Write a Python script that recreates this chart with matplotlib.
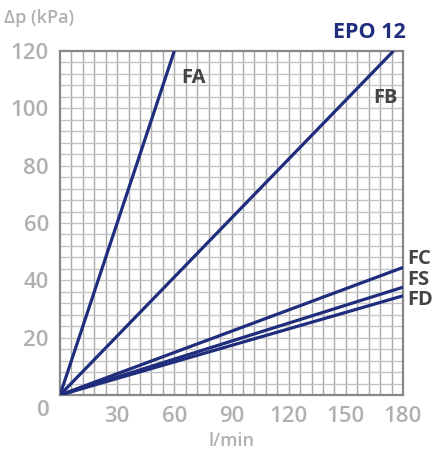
import numpy as np
import matplotlib.pyplot as plt

# flow (l/min) vs pressure drop (kPa), straight lines from origin
names = ['FA', 'FB', 'FC', 'FS', 'FD']
x_end = [60, 175, 180, 180, 180]
y_end = [120, 120, 44.5, 37.6, 34.6]

x_ticks = [30, 60, 90, 120, 150, 180]
y_ticks = [20, 40, 60, 80, 100, 120]

navy = '#1f2d7c'
tick_grey = '#b0b0b0'
label_grey = '#444444'

plt.rcParams['font.family'] = ['Open Sans', 'DejaVu Sans']

fig = plt.figure(figsize=(4.38, 4.5), dpi=100)
ax = fig.add_axes([60 / 438, 1 - 395 / 450, 343 / 438, 344 / 450])

ax.set_xlim(0, 180)
ax.set_ylim(0, 120)

# fine grid
for gx in np.arange(6, 180, 6):
    ax.axvline(gx, color='#a8a8a8', lw=1.0, zorder=1)
for gy in np.arange(4, 120, 4):
    ax.axhline(gy, color='#c4c4c4', lw=1.0, zorder=1)

for xe, ye in zip(x_end, y_end):
    ax.plot([0, xe], [0, ye], color=navy, lw=2.3, zorder=3, solid_capstyle='butt')

for s in ax.spines.values():
    s.set_color('#888888')
    s.set_linewidth(1.6)

ax.set_xticks(x_ticks)
ax.set_yticks(y_ticks)
ax.tick_params(length=0, labelsize=16, labelcolor=tick_grey, pad=8)
for lab in ax.get_xticklabels() + ax.get_yticklabels():
    lab.set_fontweight('semibold')

# corner zero
fig.text(43 / 438, 1 - 410 / 450, '0', ha='center', va='center',
         fontsize=16, color=tick_grey, fontweight='semibold')

fig.text(4 / 438, 1 - 18 / 450, 'Δp (kPa)', ha='left', va='center',
         fontsize=13, color=tick_grey, fontweight='semibold')
fig.text(231 / 438, 1 - 441 / 450, 'l/min', ha='center', va='center',
         fontsize=13, color=tick_grey, fontweight='semibold')
fig.text(406 / 438, 1 - 33 / 450, 'EPO 12', ha='right', va='center',
         fontsize=15.5, color=navy, fontweight='bold')

# curve labels
label_pos = {'FA': (181, 78), 'FB': (373, 98), 'FC': (407, 259),
             'FS': (407, 280), 'FD': (407, 300)}
for n in names:
    px, py = label_pos[n]
    fig.text(px / 438, 1 - py / 450, n, ha='left', va='center',
             fontsize=14.5, color=label_grey, fontweight='bold')

fig.savefig('out.png', dpi=100)
